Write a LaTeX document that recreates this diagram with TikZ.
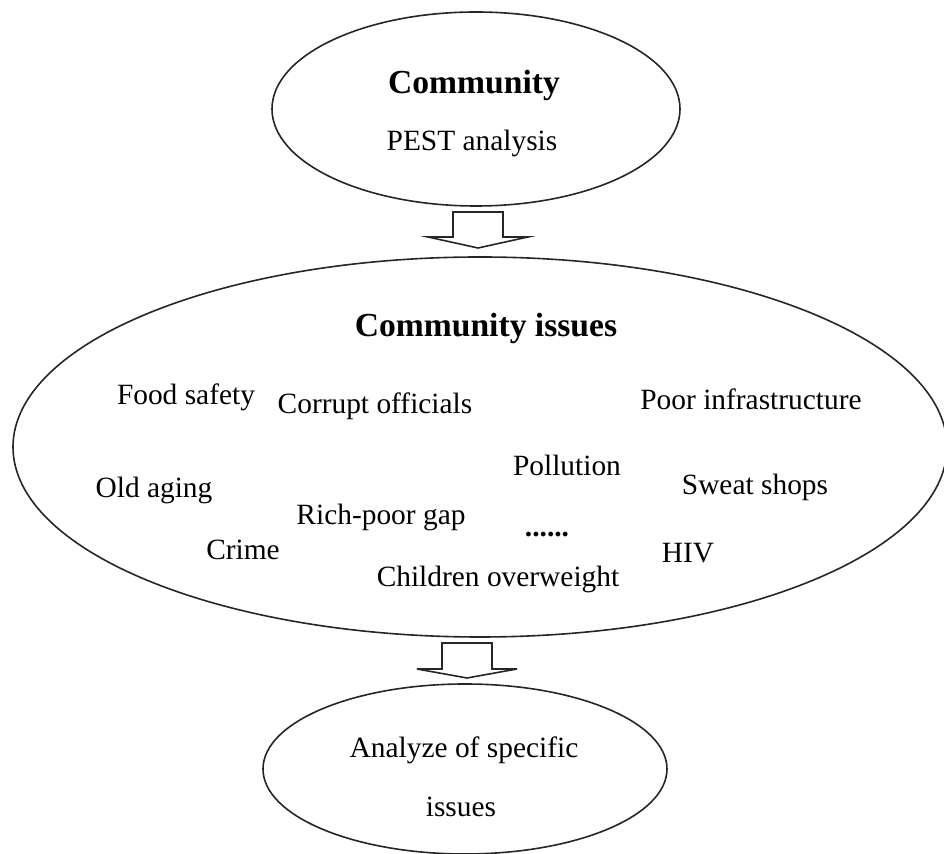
\documentclass[tikz,border=0pt]{standalone}
\usepackage{fontspec}
\setmainfont{Liberation Serif}
\usetikzlibrary{shapes.geometric}
\begin{document}
\begin{tikzpicture}[x=0.5pt,y=-0.5pt,
  oval/.style={draw=black!85, ellipse, inner sep=0pt, line width=0.8pt},
  item/.style={font=\fontsize{14.7}{17}\selectfont, inner sep=0pt, anchor=base},
  heading/.style={font=\fontsize{16.8}{20}\selectfont\bfseries, inner sep=0pt, anchor=base},
  blockarrow/.style={draw=black!85, line width=0.8pt, fill=white, line join=miter}]
\useasboundingbox (0,0) rectangle (944,854);
\clip (0,0) rectangle (944,854);

% three stages
\node[oval, minimum width=204pt, minimum height=97pt] (community) at (476,109) {};
\node[oval, minimum width=467pt, minimum height=190pt] (issues) at (480,447) {};
\node[oval, minimum width=202pt, minimum height=85pt] (specific) at (465,769) {};

% block arrows between the stages
\coordinate (a1) at (478,212);
\draw[blockarrow] (a1) ++(-25,0) -- ++(0,25) -- ++(-25,0) -- (478,248)
  -- (528,237) -- ++(-25,0) -- ++(0,-25) -- cycle;
\coordinate (a2) at (467,643);
\draw[blockarrow] (a2) ++(-25,0) -- ++(0,26) -- ++(-25,0) -- (467,678)
  -- (517,669) -- ++(-25,0) -- ++(0,-26) -- cycle;

% top stage
\node[heading] (t1) at (474,94) {Community};
\node[item] (t2) at (472,151) {PEST analysis};

% issues
\node[heading] (i0) at (486,337) {Community issues};
\node[item] (i1) at (186,405) {Food safety};
\node[item] (i2) at (375,414) {Corrupt officials};
\node[item] (i3) at (751,410) {Poor infrastructure};
\node[item] (i4) at (567,476) {Pollution};
\node[item] (i5) at (154,498) {Old aging};
\node[item] (i6) at (755,495) {Sweat shops};
\node[item] (i7) at (381,525) {Rich-poor gap};
\node[item] (i8) at (547,537) {\bfseries......};
\node[item] (i9) at (243,560) {Crime};
\node[item] (i10) at (688,563) {HIV};
\node[item] (i11) at (498,587) {Children overweight};

% bottom stage
\node[item] (s1) at (464,758) {Analyze of specific};
\node[item] (s2) at (461,817) {issues};
\end{tikzpicture}
\end{document}
